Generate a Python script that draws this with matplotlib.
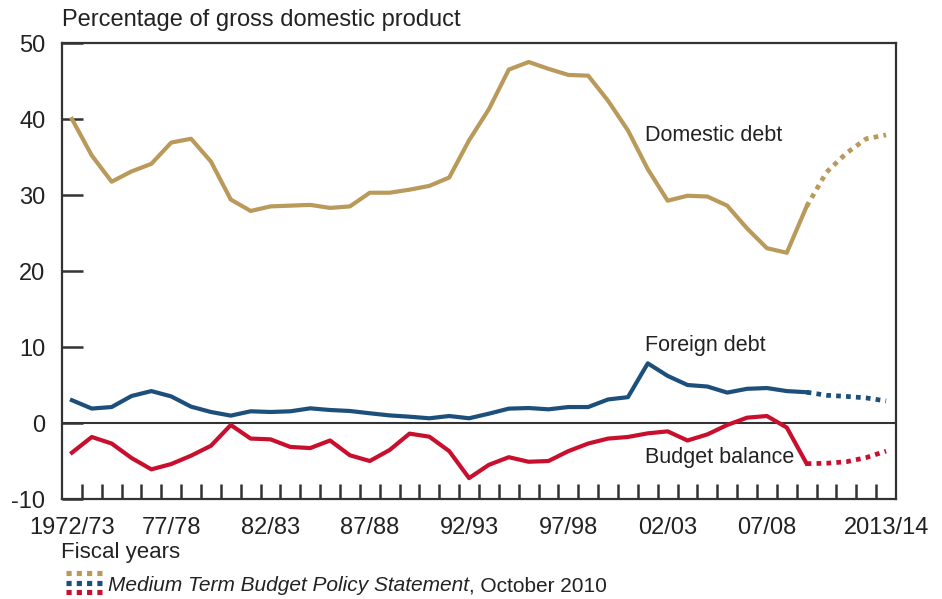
import matplotlib.pyplot as plt
from matplotlib.lines import Line2D

plt.rcParams['font.family'] = ['Liberation Sans', 'DejaVu Sans']
plt.rcParams['axes.unicode_minus'] = False

# fiscal years 1972/73 .. 2013/14
fiscal_years = ["1972/73", "73/74", "74/75", "75/76", "76/77", "77/78", "78/79",
                "79/80", "80/81", "81/82", "82/83", "83/84", "84/85", "85/86",
                "86/87", "87/88", "88/89", "89/90", "90/91", "91/92", "92/93",
                "93/94", "94/95", "95/96", "96/97", "97/98", "98/99", "99/00",
                "00/01", "01/02", "02/03", "03/04", "04/05", "05/06", "06/07",
                "07/08", "08/09", "09/10", "10/11", "11/12", "12/13", "2013/14"]
shown_labels = ["1972/73", "77/78", "82/83", "87/88", "92/93", "97/98",
                "02/03", "07/08", "2013/14"]
last_actual = "09/10"   # MTBPS projections after this

domestic = [40.0, 35.2, 31.75, 33.1, 34.1, 36.9, 37.4, 34.4, 29.4, 27.9,
            28.5, 28.6, 28.7, 28.3, 28.5, 30.3, 30.3, 30.7, 31.2, 32.3,
            37.2, 41.3, 46.5, 47.5, 46.6, 45.8, 45.7, 42.4, 38.5, 33.4,
            29.25, 29.9, 29.8, 28.6, 25.6, 23.0, 22.4, 28.5, 33.0, 35.5,
            37.4, 37.9]
foreign = [3.0, 1.9, 2.1, 3.55, 4.2, 3.5, 2.15, 1.45, 0.97, 1.54,
           1.45, 1.54, 1.93, 1.71, 1.58, 1.28, 1.0, 0.83, 0.62, 0.92,
           0.62, 1.23, 1.89, 1.97, 1.8, 2.1, 2.1, 3.1, 3.4, 7.85,
           6.2, 5.0, 4.8, 4.0, 4.5, 4.6, 4.2, 4.05, 3.65, 3.5,
           3.3, 2.9]
budget = [-3.9, -1.84, -2.7, -4.6, -6.1, -5.4, -4.3, -3.0, -0.26, -2.05,
          -2.15, -3.15, -3.3, -2.3, -4.25, -5.0, -3.55, -1.4, -1.8, -3.7,
          -7.25, -5.5, -4.5, -5.1, -5.0, -3.7, -2.7, -2.05, -1.84, -1.36,
          -1.1, -2.3, -1.5, -0.26, 0.7, 0.92, -0.6, -5.35, -5.3, -5.1,
          -4.55, -3.7]

gold = '#B99A5B'
blue = '#1D4F7B'
red = '#C8102E'
dark = '#333333'
txt = '#222222'

fig = plt.figure(figsize=(9.42, 5.99), dpi=100)
ax = fig.add_axes([62/942, 100/599, 834/942, 456/599])

x = list(range(len(fiscal_years)))
k = fiscal_years.index(last_actual)

for vals, col in [(domestic, gold), (foreign, blue), (budget, red)]:
    ax.plot(x[:k+1], vals[:k+1], color=col, lw=3.0, zorder=3)
    ax.plot(x[k:], vals[k:], color=col, lw=3.4, linestyle=(0, (1, 1.1)),
            dash_capstyle='butt', zorder=3)

ax.axhline(0, color=dark, lw=1.5, zorder=2)

ax.set_xlim(-0.5, len(fiscal_years) - 0.5)
ax.set_ylim(-10, 50)

for s in ax.spines.values():
    s.set_color(dark)
    s.set_linewidth(1.6)

# y axis
ax.set_yticks(range(-10, 51, 10))
ax.tick_params(axis='y', direction='in', length=15, width=1.8, color=dark,
               labelsize=17, labelcolor=txt, pad=12)

# x axis: labels on categories, ticks between
ax.set_xticks([fiscal_years.index(l) for l in shown_labels])
ax.set_xticklabels(shown_labels)
ax.set_xticks([i + 0.5 for i in x[:-1]], minor=True)
ax.tick_params(axis='x', which='major', length=0, labelsize=17,
               labelcolor=txt, pad=13)
ax.tick_params(axis='x', which='minor', direction='in', length=10.5,
               width=1.8, color=dark)

ax.text(28.84, 37.1, "Domestic debt", fontsize=15.5, color=txt, va='baseline')
ax.text(28.84, 9.45, "Foreign debt", fontsize=15.5, color=txt, va='baseline')
ax.text(28.84, -5.3, "Budget balance", fontsize=15.5, color=txt, va='baseline')

fig.text(62/942, 1 - 26/599, "Percentage of gross domestic product",
         fontsize=17, color=txt, va='baseline')
fig.text(61/942, 1 - 558/599, "Fiscal years", fontsize=16, color=txt,
         va='baseline')

# legend swatch for projections
for yy, col in [(573, gold), (582.5, blue), (592, red)]:
    fig.add_artist(Line2D([66/942, 102/942], [1 - yy/599, 1 - yy/599],
                          transform=fig.transFigure, color=col, lw=3.7,
                          linestyle=(0, (1, 1)), dash_capstyle='butt'))

t1 = fig.text(108/942, 1 - 591/599, "Medium Term Budget Policy Statement",
              fontsize=15, style='italic', color=txt, va='baseline')
ax.annotate(", October 2010", xy=(1, 0), xycoords=t1, va='bottom',
            fontsize=15, color=txt, annotation_clip=False)

fig.savefig('out.png', dpi=100)
